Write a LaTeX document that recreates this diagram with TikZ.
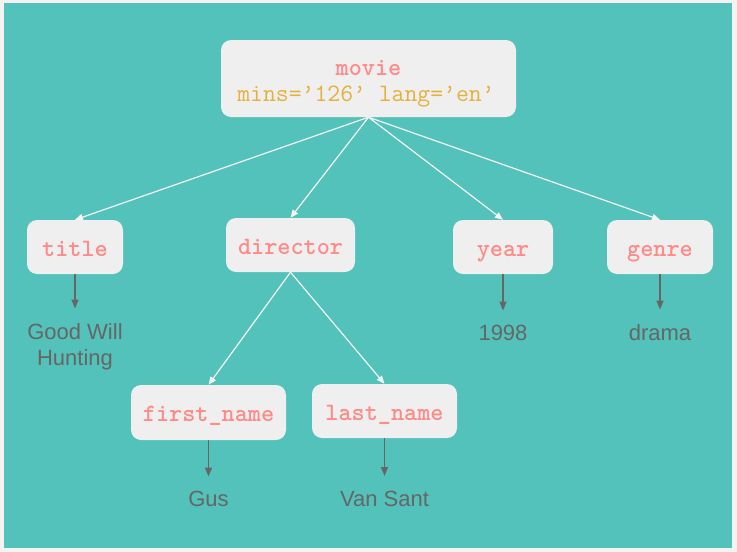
\documentclass[tikz,border=0pt]{standalone}
\usepackage{fontspec}
\setmainfont{Liberation Sans}
\usetikzlibrary{arrows.meta}
\definecolor{framec}{HTML}{F3F3F1}
\definecolor{tealc}{HTML}{52C2BA}
\definecolor{boxc}{HTML}{EFEFEF}
\definecolor{tagc}{HTML}{FF8A87}
\definecolor{attrc}{HTML}{E6B03C}
\definecolor{leafc}{HTML}{666666}
\definecolor{grayc}{HTML}{666666}
\definecolor{edgec}{HTML}{F4F4F4}
\tikzset{
  box/.style={fill=boxc, rounded corners=10pt, inner sep=0pt, text height=18pt, text depth=0pt,
    font=\ttfamily\bfseries\fontsize{25}{28}\selectfont, text=tagc},
  tagtext/.style={inner sep=0pt, anchor=base, font=\ttfamily\bfseries\fontsize{25}{28}\selectfont, text=tagc},
  attrtext/.style={inner sep=0pt, anchor=base, font=\ttfamily\fontsize{25}{28}\selectfont, text=attrc},
  leaf/.style={anchor=north, inner sep=0pt, text=leafc, font=\fontsize{22}{26}\selectfont, align=center},
  wedge/.style={draw=edgec, line width=1.2pt, -{Triangle[length=8pt,width=6.5pt]}},
  gedge/.style={draw=grayc, line width=1.5pt, -{Triangle[length=9pt,width=7pt]}, shorten >=14.5pt}
}
\begin{document}
\begin{tikzpicture}[x=1pt,y=-1pt]
\useasboundingbox (0,0) rectangle (737,552);
\fill[framec] (0,0) rectangle (737,552);
\fill[tealc] (4,3) rectangle (732,548);

\node[box, minimum width=295pt, minimum height=77pt] (movie) at (368.5,78.5) {};
\node[tagtext] (movietag) at (368.5,75) {movie};
\node[attrtext] (movieattr) at (366,101) {mins=’126’ lang=’en’};

\node[box, minimum width=96pt, minimum height=54pt] (title) at (75,247) {title};
\node[box, minimum width=129pt, minimum height=54pt] (director) at (290.5,245) {director};
\node[box, minimum width=100pt, minimum height=54pt] (year) at (503,247) {year};
\node[box, minimum width=106pt, minimum height=54pt] (genre) at (660,247) {genre};
\node[box, minimum width=155pt, minimum height=55pt] (first) at (208.5,412.5) {first\_name};
\node[box, minimum width=145pt, minimum height=54pt] (last) at (384.5,411) {last\_name};

\node[leaf] (gw) at (75,323) {Good Will\\Hunting};
\node[leaf] (yr) at (503,325) {1998};
\node[leaf] (dr) at (660,324) {drama};
\node[leaf] (gus) at (208.5,491) {Gus};
\node[leaf] (vs) at (384.5,490.5) {Van Sant};

\draw[wedge] (movie.south) -- (title.north);
\draw[wedge] (movie.south) -- (director.north);
\draw[wedge] (movie.south) -- (year.north);
\draw[wedge] (movie.south) -- (genre.north);
\draw[wedge] (director.south) -- (first.north);
\draw[wedge] (director.south) -- (last.north);

\draw[gedge] (title.south) -- (gw.north);
\draw[gedge] (year.south) -- (yr.north);
\draw[gedge] (genre.south) -- (dr.north);
\draw[gedge] (first.south) -- (gus.north);
\draw[gedge] (last.south) -- (vs.north);
\end{tikzpicture}
\end{document}
